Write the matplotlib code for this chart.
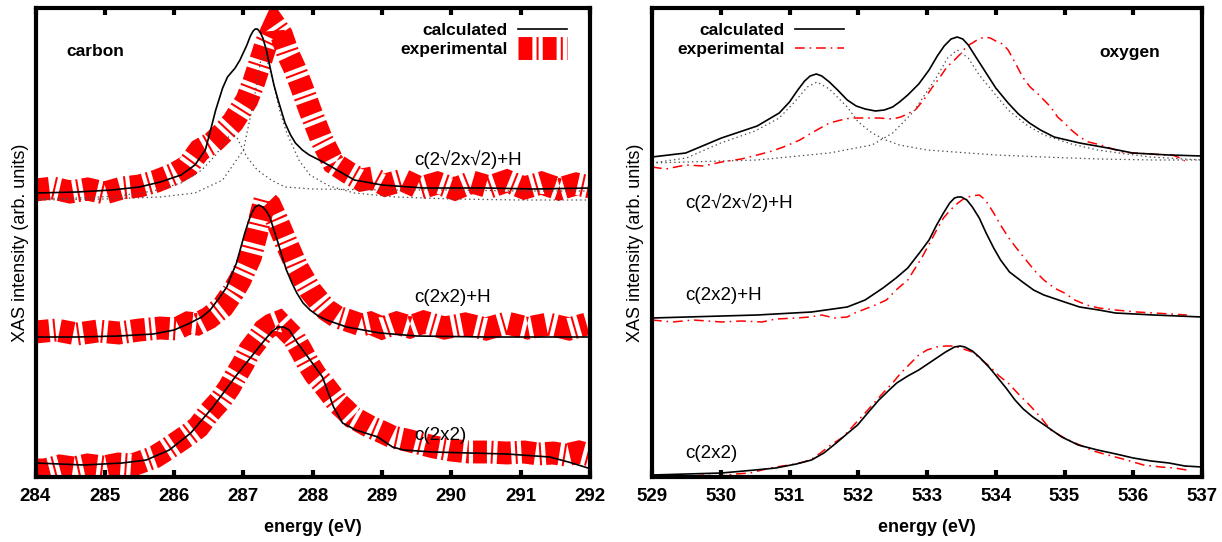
import matplotlib
matplotlib.use('Agg')
import matplotlib.pyplot as plt
from matplotlib.lines import Line2D

plt.rcParams['font.family'] = ['Liberation Sans', 'DejaVu Sans']
plt.rcParams['lines.scale_dashes'] = False

# ---------------- carbon K-edge (energy in eV, intensity in arb. units) -------------
c_top_calc_e = [284.0, 284.6, 285.1, 285.5, 285.8, 286.1, 286.3, 286.45, 286.5, 286.6, 286.7, 286.77,
                286.88, 286.95, 287.05, 287.1, 287.14, 287.17, 287.2, 287.24, 287.28, 287.33, 287.38,
                287.44, 287.5, 287.6, 287.68, 287.75, 287.85, 287.95, 288.15, 288.4, 288.6, 289.0,
                289.6, 290.5, 291.2, 292.0]
c_top_calc_i = [287, 288, 290, 293, 298, 305, 315, 330, 343, 370, 392, 403,
                412, 420, 435, 444, 449, 451, 451, 448, 442, 430, 414,
                395, 380, 357, 345, 337, 330, 325, 318, 308, 300, 295,
                292, 292, 291, 292]

c_top_comp1_e = [284.0, 284.6, 285.2, 285.7, 286.1, 286.4, 286.6, 286.75, 286.83, 286.9, 287.05, 287.2,
                 287.4, 287.6, 288.0, 289.0, 290.0, 291.0, 292.0]
c_top_comp1_i = [281, 282, 284, 289, 297, 310, 325, 340, 347, 343, 323, 310,
                 300, 293, 291, 290, 290, 289, 289]

c_top_comp2_e = [284.0, 285.0, 285.8, 286.3, 286.7, 287.0, 287.15, 287.25, 287.32, 287.42, 287.52, 287.62,
                 287.8, 287.96, 288.24, 288.6, 289.2, 290.0, 291.0, 292.0]
c_top_comp2_i = [280, 281, 283, 287, 300, 330, 380, 420, 425, 400, 370, 348,
                 320, 305, 294, 287, 283, 281, 280, 280]

c_top_exp_e = [284.0, 284.25, 284.5, 284.75, 285.0, 285.25, 285.5, 285.75, 286.0, 286.2, 286.37, 286.55,
               286.7, 286.85, 287.05, 287.15, 287.22, 287.33, 287.45, 287.55, 287.65, 287.73, 287.84,
               287.96, 288.13, 288.3, 288.52, 288.7, 288.86, 289.05, 289.3, 289.55, 289.8, 290.05,
               290.3, 290.55, 290.8, 291.05, 291.3, 291.55, 291.8, 292.0]
c_top_exp_i = [290, 292, 288, 291, 287, 292, 294, 299, 306, 314, 330, 337,
               347, 358, 380, 398, 413, 437, 455, 445, 425, 413, 393,
               370, 340, 317, 307, 300, 302, 295, 300, 292, 297, 291,
               298, 293, 299, 292, 297, 291, 296, 293]

c_mid_calc_e = [284.0, 284.6, 285.2, 285.7, 286.0, 286.2, 286.4, 286.52, 286.65, 286.76, 286.84, 286.9,
                286.96, 287.02, 287.08, 287.12, 287.17, 287.22, 287.28, 287.33, 287.38, 287.44, 287.5,
                287.56, 287.62, 287.7, 287.77, 287.86, 287.96, 288.08, 288.2, 288.49, 288.97, 289.5,
                290.5, 291.3, 292.0]
c_mid_calc_i = [143, 143, 144, 146, 150, 156, 163, 170, 182, 193, 207, 217,
                232, 247, 260, 267, 273, 275, 273, 269, 263, 250, 237,
                223, 210, 197, 187, 177, 170, 164, 160, 153, 147, 144,
                143, 143, 143]

c_mid_exp_e = [284.0, 284.3, 284.6, 284.9, 285.2, 285.5, 285.8, 286.03, 286.2, 286.33, 286.5, 286.7,
               286.85, 286.95, 287.1, 287.19, 287.26, 287.31, 287.38, 287.48, 287.62, 287.77, 287.96,
               288.1, 288.2, 288.35, 288.49, 288.7, 288.83, 289.0, 289.21, 289.4, 289.6, 289.9,
               290.2, 290.5, 290.8, 291.1, 291.4, 291.7, 291.95]
c_mid_exp_i = [148, 150, 146, 149, 147, 150, 152, 151, 157, 156, 162, 173,
               188, 200, 223, 247, 267, 280, 275, 260, 237, 213, 190,
               178, 170, 163, 160, 155, 157, 152, 157, 153, 158, 152,
               156, 151, 157, 152, 156, 151, 156]

c_bot_calc_e = [284.0, 284.7, 285.25, 285.6, 285.93, 286.24, 286.56, 286.88, 287.19, 287.33, 287.42, 287.5,
                287.58, 287.66, 287.78, 287.93, 288.14, 288.3, 288.43, 288.62, 288.94, 289.15, 289.31,
                289.73, 290.8, 291.42, 291.74, 291.97]
c_bot_calc_i = [17, 15, 17, 20, 30, 47, 73, 103, 130, 142, 149, 153,
                153, 150, 137, 123, 103, 73, 57, 50, 43, 33, 30,
                28, 26, 23, 17, 12]

c_bot_exp_e = [284.0, 284.13, 284.35, 284.55, 284.75, 284.98, 285.2, 285.4, 285.56, 285.72, 285.88, 286.03,
               286.2, 286.35, 286.5, 286.67, 286.8, 286.88, 287.0, 287.09, 287.2, 287.3, 287.4, 287.51,
               287.62, 287.72, 287.83, 287.93, 288.04, 288.14, 288.25, 288.36, 288.47, 288.57, 288.7,
               288.83, 289.0, 289.15, 289.35, 289.52, 289.75, 289.99, 290.25, 290.52, 290.8, 291.05,
               291.25, 291.47, 291.65, 291.84, 292.0]
c_bot_exp_i = [10, 10, 14, 12, 15, 13, 16, 15, 19, 23, 30, 37,
               45, 53, 67, 80, 93, 103, 117, 130, 140, 150, 155, 158,
               150, 143, 130, 117, 105, 97, 87, 77, 70, 63, 58,
               53, 48, 43, 40, 37, 33, 30, 28, 28, 27, 28,
               26, 27, 25, 28, 25]

# ---------------- oxygen K-edge ----------------
o_top_calc_e = [529.0, 529.49, 530.01, 530.53, 530.85, 531.0, 531.12, 531.22, 531.3, 531.39, 531.47,
                531.58, 531.7, 531.84, 531.97, 532.1, 532.25, 532.38, 532.5, 532.6, 532.72, 532.88,
                533.03, 533.15, 533.25, 533.35, 533.44, 533.52, 533.6, 533.72, 533.86, 534.0, 534.18,
                534.33, 534.49, 534.65, 534.85, 535.22, 535.63, 535.99, 536.52, 537.0]
o_top_calc_i = [323, 327, 342, 354, 367, 378, 390, 399, 404, 406, 404,
                398, 390, 380, 374, 371, 369, 370, 373, 378, 385, 396,
                410, 424, 434, 441, 443, 441, 435, 422, 407, 392, 377,
                366, 357, 350, 343, 337, 332, 327, 325, 324]

o_top_comp1_e = [529.0, 529.5, 530.0, 530.5, 530.85, 531.06, 531.26, 531.4, 531.58, 531.84, 532.0, 532.2,
                 532.4, 532.6, 533.0, 533.4, 534.0, 534.7, 535.5, 536.3, 537.0]
o_top_comp1_i = [317, 322, 337, 349, 362, 377, 393, 398, 391, 373, 358, 347,
                 340, 335, 330, 328, 325, 323, 321, 320, 320]

o_top_comp2_e = [529.0, 530.53, 531.58, 532.2, 532.5, 532.8, 533.14, 533.3, 533.44, 533.6, 533.76, 534.0,
                 534.18, 534.45, 534.7, 535.1, 535.48, 535.9, 536.25, 537.0]
o_top_comp2_i = [317, 320, 327, 335, 347, 368, 403, 422, 430, 422, 405, 385,
                 370, 355, 345, 336, 330, 326, 323, 320]

o_top_exp_e = [529.0, 529.2, 529.49, 529.75, 530.01, 530.3, 530.53, 530.75, 530.95, 531.15, 531.32, 531.58,
               531.75, 531.89, 532.1, 532.3, 532.5, 532.62, 532.83, 532.95, 533.08, 533.18, 533.29,
               533.4, 533.5, 533.58, 533.66, 533.75, 533.84, 533.92, 534.0, 534.1, 534.18, 534.3,
               534.39, 534.5, 534.6, 534.7, 534.8, 534.9, 535.0, 535.1, 535.22, 535.35, 535.53,
               535.7, 535.84, 536.0, 536.26, 536.45, 536.57, 536.68, 536.75]
o_top_exp_i = [313, 311, 315, 314, 318, 321, 325, 329, 334, 340, 347, 357,
               360, 362, 362, 362, 361, 363, 370, 380, 393, 402, 413,
               420, 427, 434, 437, 441, 443, 442, 439, 436, 430, 415,
               403, 393, 387, 380, 373, 363, 357, 350, 343, 338, 335,
               331, 328, 327, 326, 325, 325, 322, 319]

o_mid_calc_e = [529.0, 530.53, 531.32, 531.84, 532.1, 532.36, 532.55, 532.72, 532.9, 533.03, 533.14,
                533.24, 533.33, 533.4, 533.45, 533.5, 533.58, 533.66, 533.76, 533.86, 533.97, 534.07,
                534.2, 534.39, 534.55, 534.7, 535.0, 535.22, 535.5, 535.74, 536.3, 537.0]
o_mid_calc_i = [162, 165, 168, 173, 180, 192, 202, 212, 228, 240, 255,
                267, 277, 282, 283, 283, 280, 273, 262, 247, 232, 220,
                208, 198, 190, 185, 178, 173, 170, 167, 165, 163]

o_mid_exp_e = [529.0, 529.3, 529.6, 530.01, 530.3, 530.6, 530.8, 531.1, 531.3, 531.47, 531.65, 531.84,
               531.95, 532.1, 532.25, 532.41, 532.55, 532.72, 532.83, 532.93, 533.04, 533.14, 533.24,
               533.34, 533.45, 533.55, 533.65, 533.76, 533.85, 533.97, 534.07, 534.18, 534.3, 534.44,
               534.57, 534.7, 534.85, 535.0, 535.15, 535.32, 535.5, 535.74, 535.9, 536.05, 536.3,
               536.55, 536.78]
o_mid_exp_i = [160, 158, 160, 158, 159, 158, 161, 162, 163, 165, 162, 163,
               167, 171, 175, 180, 190, 200, 212, 223, 237, 250, 262,
               270, 277, 282, 284, 285, 280, 267, 255, 243, 232, 220,
               209, 200, 192, 187, 180, 175, 172, 170, 169, 168, 167,
               166, 165]

o_bot_calc_e = [529.0, 530.01, 530.5, 530.8, 531.1, 531.32, 531.5, 531.68, 531.85, 531.99, 532.15, 532.3,
                532.45, 532.56, 532.72, 532.88, 533.01, 533.14, 533.27, 533.4, 533.48, 533.55, 533.66,
                533.76, 533.9, 534.02, 534.15, 534.28, 534.4, 534.54, 534.75, 534.96, 535.2, 535.48,
                535.75, 536.0, 536.26, 536.52, 536.75, 537.0]
o_bot_calc_i = [5, 7, 10, 12, 16, 20, 27, 37, 47, 55, 68, 80,
                90, 97, 104, 110, 116, 122, 128, 133, 134, 133, 129,
                123, 113, 103, 92, 80, 71, 63, 53, 43, 35, 30,
                26, 22, 19, 17, 14, 13]

o_bot_exp_e = [529.0, 529.3, 529.5, 529.75, 530.0, 530.2, 530.43, 530.6, 530.8, 531.0, 531.21, 531.35,
               531.47, 531.6, 531.78, 531.95, 532.1, 532.23, 532.36, 532.5, 532.62, 532.75, 532.88,
               533.0, 533.14, 533.27, 533.4, 533.53, 533.66, 533.8, 533.92, 534.05, 534.18, 534.33,
               534.49, 534.65, 534.8, 535.0, 535.22, 535.42, 535.63, 535.85, 536.15, 536.4, 536.6,
               536.78]
o_bot_exp_i = [3, 4, 3, 5, 4, 6, 7, 10, 13, 15, 18, 22,
               28, 35, 43, 56, 67, 77, 87, 97, 107, 116, 125,
               130, 133, 134, 134, 131, 128, 120, 113, 104, 97, 86,
               75, 63, 50, 42, 35, 29, 25, 21, 15, 13, 12,
               10]

c_ticks = [284, 285, 286, 287, 288, 289, 290, 291, 292]
o_ticks = [529, 530, 531, 532, 533, 534, 535, 536, 537]

# ---------------- figure ----------------
W, H = 1222, 542
fig = plt.figure(figsize=(W / 100, H / 100), dpi=100)
axL = fig.add_axes([35.5 / W, 1 - 477 / H, (590 - 35.5) / W, (477 - 8) / H])
axR = fig.add_axes([652 / W, 1 - 477 / H, 550 / W, (477 - 8) / H])

CALC = dict(color='black', lw=1.2, zorder=3)
DOT = dict(color='0.3', lw=0.9, linestyle=(0, (1, 2.2)), zorder=2)
THICK = dict(color='#ff0000', lw=16.5, linestyle=(0, (10, 3, 1.45, 3)),
             dash_capstyle='butt', solid_capstyle='butt', dash_joinstyle='miter', zorder=1)
THIN = dict(color='#ff0000', lw=1.1, linestyle=(0, (7, 3.5, 1.2, 3.5)), zorder=2)

# carbon
axL.plot(c_top_exp_e, c_top_exp_i, **THICK)
axL.plot(c_mid_exp_e, c_mid_exp_i, **THICK)
axL.plot(c_bot_exp_e, c_bot_exp_i, **THICK)
axL.plot(c_top_comp1_e, c_top_comp1_i, **DOT)
axL.plot(c_top_comp2_e, c_top_comp2_i, **DOT)
axL.plot(c_top_calc_e, c_top_calc_i, **CALC)
axL.plot(c_mid_calc_e, c_mid_calc_i, **CALC)
axL.plot(c_bot_calc_e, c_bot_calc_i, **CALC)

# oxygen
axR.plot(o_top_comp1_e, o_top_comp1_i, **DOT)
axR.plot(o_top_comp2_e, o_top_comp2_i, **DOT)
axR.plot(o_top_calc_e, o_top_calc_i, **CALC)
axR.plot(o_mid_calc_e, o_mid_calc_i, **CALC)
axR.plot(o_bot_calc_e, o_bot_calc_i, **CALC)
axR.plot(o_top_exp_e, o_top_exp_i, **THIN)
axR.plot(o_mid_exp_e, o_mid_exp_i, **THIN)
axR.plot(o_bot_exp_e, o_bot_exp_i, **THIN)

TICKF = dict(fontsize=13.5, fontweight='bold')
for ax, ticks in ((axL, c_ticks), (axR, o_ticks)):
    ax.set_xlim(ticks[0], ticks[-1])
    ax.set_ylim(3, 472)
    ax.set_xticks(ticks)
    ax.set_xticklabels([str(t) for t in ticks], **TICKF)
    ax.set_yticks([])
    ax.tick_params(axis='x', direction='in', length=5, width=3, top=True, bottom=True, pad=8)
    for s in ax.spines.values():
        s.set_linewidth(3)
    ax.set_xlabel('energy (eV)', labelpad=10, fontsize=13, fontweight='bold')
    ax.set_ylabel('XAS intensity (arb. units)', fontsize=13)
axL.yaxis.set_label_coords(-0.012, 0.5)
axR.yaxis.set_label_coords(-0.014, 0.5)

# annotations
NAME = dict(fontsize=12.5, fontweight='bold', va='center', ha='left')
STATE = dict(fontsize=13.5, va='center', ha='left')
axL.text(284.45, 428, 'carbon', **NAME)
axL.text(289.47, 320, 'c(2\u221a2x\u221a2)+H', **STATE)
axL.text(289.47, 183, 'c(2x2)+H', **STATE)
axL.text(289.47, 45, 'c(2x2)', **STATE)

axR.text(535.5, 428, 'oxygen', **NAME)
axR.text(529.49, 277, 'c(2\u221a2x\u221a2)+H', **STATE)
axR.text(529.49, 185, 'c(2x2)+H', **STATE)
axR.text(529.49, 27, 'c(2x2)', **STATE)

# legends
labels = ['calculated', 'experimental']
hL = [Line2D([], [], **CALC), Line2D([], [], **THICK)]
hR = [Line2D([], [], **CALC), Line2D([], [], **THIN)]
for ax, handles, anchor in ((axL, hL, (0.9585, 0.968)), (axR, hR, (0.349, 0.968))):
    ax.legend(handles, labels, loc='upper right', bbox_to_anchor=anchor, frameon=False,
              markerfirst=False, handlelength=2.8, handletextpad=0.6, labelspacing=0.2,
              borderpad=0, borderaxespad=0, prop=dict(size=12.5, weight='bold'))

fig.savefig('out.png', dpi=100)
